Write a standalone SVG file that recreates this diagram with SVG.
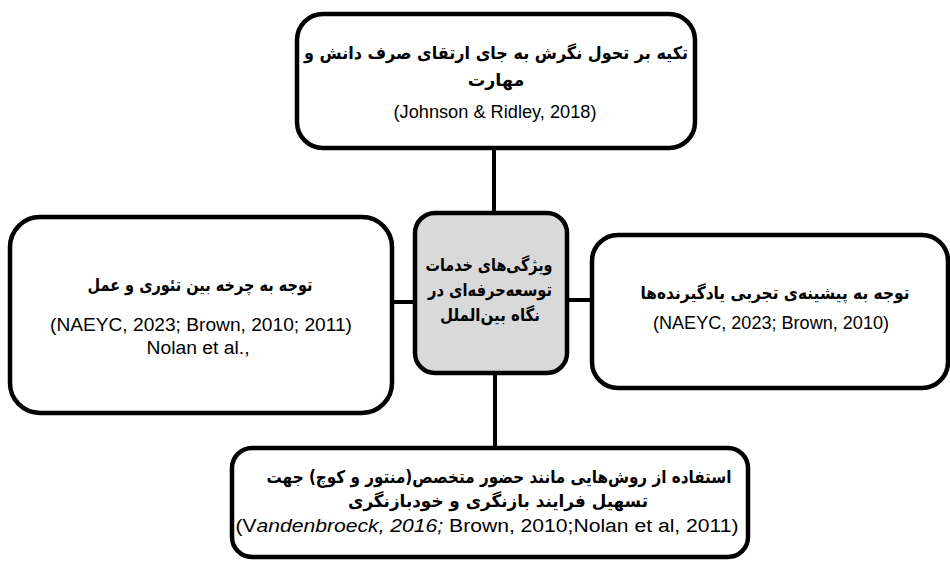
<svg xmlns="http://www.w3.org/2000/svg" width="950" height="561" viewBox="0 0 950 561">
<style>
.box{fill:#fff;stroke:#000;stroke-width:4.5}
.hub{fill:#d9d9d9;stroke:#000;stroke-width:4.5}
.conn{stroke:#000;stroke-width:4;fill:none}
.fa{font-family:"DejaVu Sans","Noto Sans",sans-serif;font-weight:bold;font-size:17.5px;fill:#000;text-anchor:middle}
.en{font-family:"Liberation Sans","Noto Sans",sans-serif;font-size:18px;fill:#000;text-anchor:middle}
</style>
<rect width="950" height="561" fill="#fff"/>
<g id="connectors">
<line class="conn" x1="494" y1="148" x2="494" y2="214"/>
<line class="conn" x1="392" y1="302" x2="416" y2="302"/>
<line class="conn" x1="566" y1="300" x2="593" y2="300"/>
<line class="conn" x1="495" y1="372" x2="495" y2="449"/>
</g>
<g id="node-top">
<rect class="box" x="297" y="14" width="398" height="134" rx="26"/>
<text class="fa" x="496" y="59" direction="rtl" textLength="384" lengthAdjust="spacingAndGlyphs">تکیه بر تحول نگرش به جای ارتقای صرف دانش و</text>
<text class="fa" x="496" y="86" direction="rtl">مهارت</text>
<text class="en" x="495" y="118" textLength="203" lengthAdjust="spacingAndGlyphs">(Johnson &amp; Ridley, 2018)</text>
</g>
<g id="node-center">
<rect class="hub" x="415" y="213" width="152" height="160" rx="20"/>
<text class="fa" x="489" y="271" direction="rtl" textLength="127" lengthAdjust="spacingAndGlyphs">ویژگی‌های خدمات</text>
<text class="fa" x="490" y="296" direction="rtl" textLength="124" lengthAdjust="spacingAndGlyphs">توسعه‌حرفه‌ای در</text>
<text class="fa" x="490" y="321" direction="rtl" textLength="100" lengthAdjust="spacingAndGlyphs">نگاه بین‌الملل</text>
</g>
<g id="node-left">
<rect class="box" x="10" y="217" width="382" height="196" rx="30"/>
<text class="fa" x="200" y="291" direction="rtl" textLength="225" lengthAdjust="spacingAndGlyphs">توجه به چرخه بین تئوری و عمل</text>
<text class="en" x="201" y="331" textLength="302" lengthAdjust="spacingAndGlyphs">(NAEYC, 2023; Brown, 2010; 2011)</text>
<text class="en" x="198" y="354" textLength="103" lengthAdjust="spacingAndGlyphs">Nolan et al.,</text>
</g>
<g id="node-right">
<rect class="box" x="592" y="235" width="356" height="153" rx="26"/>
<text class="fa" x="775" y="299" direction="rtl" textLength="269" lengthAdjust="spacingAndGlyphs">توجه به پیشینه‌ی تجربی یادگیرنده‌ها</text>
<text class="en" x="771" y="329" textLength="236" lengthAdjust="spacingAndGlyphs">(NAEYC, 2023; Brown, 2010)</text>
</g>
<g id="node-bottom">
<rect class="box" x="232" y="448" width="516" height="109" rx="20"/>
<text class="fa" x="499" y="483" direction="rtl" textLength="465" lengthAdjust="spacingAndGlyphs">استفاده از روش‌هایی مانند حضور متخصص(منتور و کوچ) جهت</text>
<text class="fa" x="498" y="507" direction="rtl" textLength="300" lengthAdjust="spacingAndGlyphs">تسهیل فرایند بازنگری و خودبازنگری</text>
<text class="en" x="487" y="532" textLength="503" lengthAdjust="spacingAndGlyphs">(V<tspan font-style="italic">andenbroeck, 2016;</tspan> Brown, 2010;Nolan et al, 2011)</text>
</g>
</svg>
